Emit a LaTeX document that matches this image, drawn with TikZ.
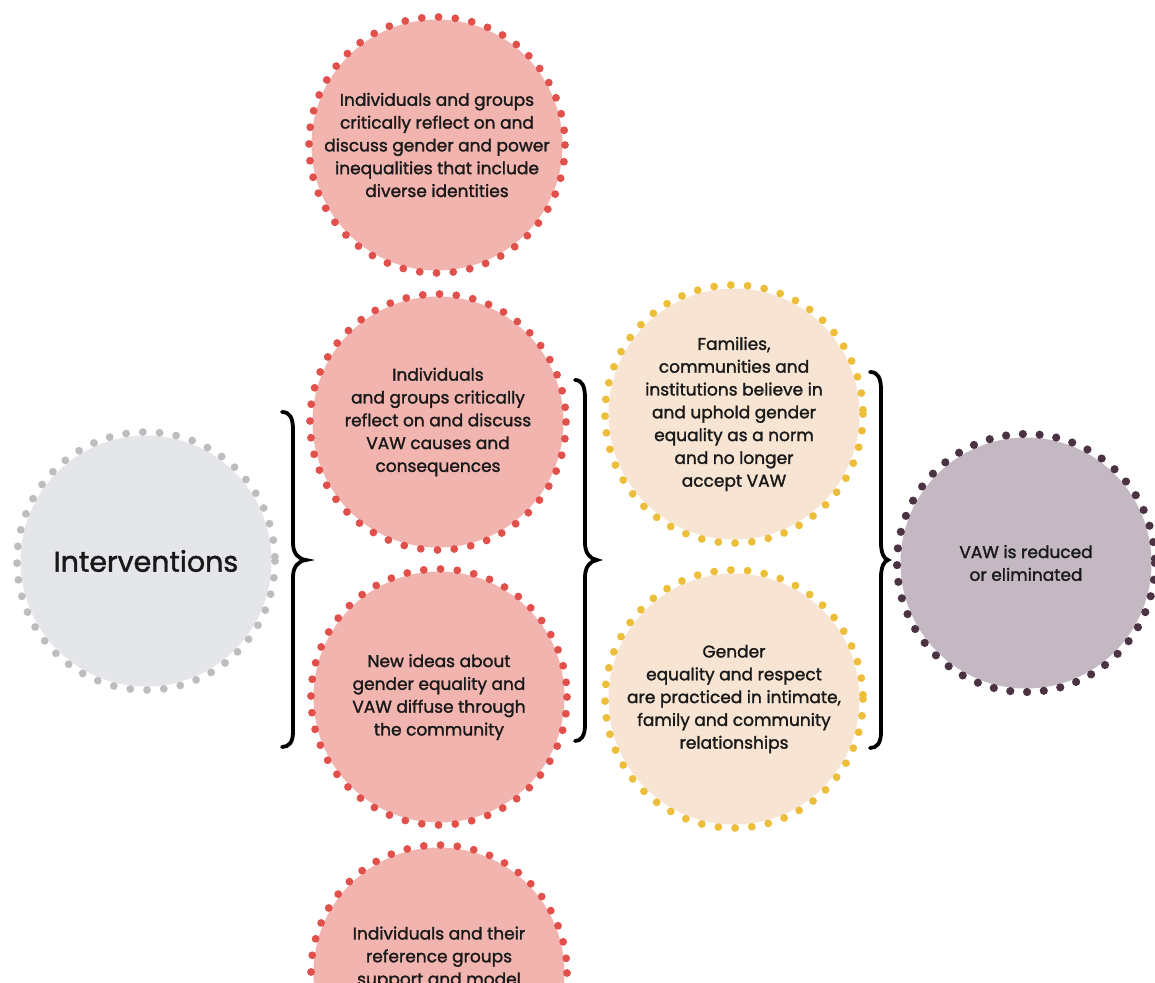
\documentclass[tikz,border=0pt]{standalone}
\usepackage{fontspec}
\setmainfont{Poppins}[FakeBold=1.6]
\definecolor{redfill}{HTML}{F2B4AF}
\definecolor{reddot}{HTML}{E2504B}
\definecolor{yelfill}{HTML}{F7E4D2}
\definecolor{yeldot}{HTML}{EDBE3A}
\definecolor{grayfill}{HTML}{E5E6EA}
\definecolor{graydot}{HTML}{BDBDBD}
\definecolor{purfill}{HTML}{C4B8C2}
\definecolor{purdot}{HTML}{4B3343}
\tikzset{
  bubtext/.style={align=center, font=\fontsize{17}{22.8}\selectfont, text=black!90},
  bub/.style={circle, inner sep=0pt, minimum size=251pt, bubtext},
  dotring/.style={line width=7.8pt, line cap=round, dash pattern=on 0pt off 16.8pt},
  bracepath/.style={line width=3.8pt, line cap=round, black}
}
\begin{document}
\begin{tikzpicture}[x=1pt,y=-1pt]
\useasboundingbox (0,0) rectangle (1155,982);
\fill[white] (0,0) rectangle (1155,982);
% gray
\node[bub, fill=grayfill, font=\fontsize{28.5}{32}\selectfont] (int) at (146,561) {Interventions};
\draw[dotring, graydot] (int.center) circle[radius=129];
% red column
\node[bub, fill=redfill] (r1) at (437,145) {Individuals and groups\\critically reflect on and\\discuss gender and power\\inequalities that include\\diverse identities};
\draw[dotring, reddot] (r1.center) circle[radius=128];
\node[bub, fill=redfill] (r2) at (438,422) {Individuals\\and groups critically\\reflect on and discuss\\VAW causes and\\consequences};
\draw[dotring, reddot] (r2.center) circle[radius=128];
\node[bub, fill=redfill] (r3) at (439,697) {New ideas about\\gender equality and\\VAW diffuse through\\the community};
\draw[dotring, reddot] (r3.center) circle[radius=128];
\node[bub, fill=redfill] (r4) at (439,973) {};
\draw[dotring, reddot] (r4.center) circle[radius=128];
\node[bubtext, anchor=north] (r4t) at (439,923) {Individuals and their\\reference groups\\support and model};
% yellow
\node[bub, fill=yelfill] (y1) at (734,414) {Families,\\communities and\\institutions believe in\\and uphold gender\\equality as a norm\\and no longer\\accept VAW};
\draw[dotring, yeldot] (y1.center) circle[radius=129];
\node[bub, fill=yelfill] (y2) at (734,699) {Gender\\equality and respect\\are practiced in intimate,\\family and community\\relationships};
\draw[dotring, yeldot] (y2.center) circle[radius=129];
% purple
\node[bub, fill=purfill] (p) at (1026,563) {VAW is reduced\\or eliminated};
\draw[dotring, purdot, line width=8.2pt] (p.center) circle[radius=129];
% braces
\coordinate (b1t) at (282,412);
\coordinate (b1m) at (306,560);
\coordinate (b1b) at (282,747);
\draw[bracepath] (b1t) .. controls (290,412) and (293,418) .. (293,430) -- (293,543)
  .. controls (293,553) and (298,559) .. (b1m)
  .. controls (298,561) and (293,567) .. (293,577) -- (293,732)
  .. controls (293,742) and (289,747) .. (b1b);
\coordinate (b2t) at (575,380);
\coordinate (b2m) at (597,560);
\coordinate (b2b) at (575,741);
\draw[bracepath] (b2t) .. controls (582,380) and (585,386) .. (585,398) -- (585,543)
  .. controls (585,553) and (590,559) .. (b2m)
  .. controls (590,561) and (585,567) .. (585,577) -- (585,725)
  .. controls (585,736) and (581,741) .. (b2b);
\coordinate (b3t) at (870,372);
\coordinate (b3m) at (888,560);
\coordinate (b3b) at (870,748);
\draw[bracepath] (b3t) .. controls (878,372) and (881,378) .. (881,390) -- (881,543)
  .. controls (881,553) and (884,559) .. (b3m)
  .. controls (884,561) and (881,567) .. (881,577) -- (881,732)
  .. controls (881,743) and (877,748) .. (b3b);
\end{tikzpicture}
\end{document}
